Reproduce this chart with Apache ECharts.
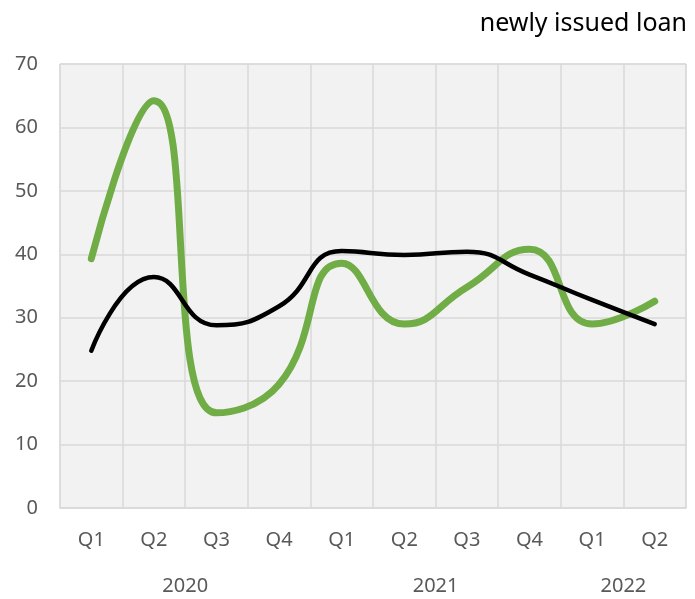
<!DOCTYPE html>
<html>
<head>
<meta charset="utf-8">
<script src="https://cdn.jsdelivr.net/npm/echarts@6/dist/echarts.min.js"></script>
<style>
  html, body { margin: 0; padding: 0; background: #fff; }
  #main { width: 695px; height: 599px; }
</style>
</head>
<body>
<div id="main"></div>
<script>
// 数据
var quarters = ['Q1', 'Q2', 'Q3', 'Q4', 'Q1', 'Q2', 'Q3', 'Q4', 'Q1', 'Q2'];
var years = ['2020', '2021', '2022'];
var yearSpans = [4, 4, 2]; // 每年包含的季度数
var greenSeries = [39.3, 64.2, 15.0, 19.5, 38.6, 29.0, 34.8, 40.8, 29.0, 32.6];
var blackSeries = [24.8, 36.4, 28.8, 31.8, 40.5, 39.9, 40.4, 36.8, 32.8, 29.0];
var yTicks = [0, 10, 20, 30, 40, 50, 60, 70];

// 年份标签位置：每组中心
var yearAt = {};
var start = 0;
yearSpans.forEach(function (s, i) {
  yearAt[start + s / 2] = years[i];
  start += s;
});

var font = 'Noto Sans';
var chart = echarts.init(document.getElementById('main'));
chart.setOption({
  animation: false,
  title: {
    text: 'newly issued loan',
    right: 3, top: 6,
    textStyle: { fontFamily: font, fontSize: 25, fontWeight: 'normal', color: '#000' }
  },
  grid: {
    left: 60, right: 9, top: 64, bottom: 91,
    show: true, backgroundColor: '#f2f2f2', borderColor: '#d9d9d9', borderWidth: 1
  },
  xAxis: [{
    type: 'category',
    data: quarters,
    boundaryGap: true,
    axisLine: { lineStyle: { color: '#d9d9d9', width: 1.5 } },
    axisTick: { show: false },
    splitLine: { show: true, lineStyle: { color: '#d9d9d9', width: 1.5 } },
    axisLabel: { fontFamily: font, fontSize: 20, color: '#595959', margin: 22 }
  }, {
    type: 'value',
    position: 'bottom',
    min: 0, max: quarters.length, interval: 1,
    axisLine: { show: false },
    axisTick: { show: false },
    splitLine: { show: false },
    axisLabel: {
      fontFamily: font, fontSize: 20, color: '#595959', margin: 68,
      showMinLabel: true, showMaxLabel: true,
      formatter: function (v) { return yearAt[v] || ''; }
    }
  }],
  yAxis: {
    type: 'value',
    min: yTicks[0], max: yTicks[yTicks.length - 1], interval: 10,
    axisLine: { show: false },
    axisTick: { show: false },
    splitLine: { show: true, lineStyle: { color: '#d9d9d9', width: 1.5 } },
    axisLabel: { fontFamily: font, fontSize: 20, color: '#595959', margin: 22 }
  },
  series: [{
    type: 'line',
    data: greenSeries,
    smooth: 0.5,
    symbol: 'none',
    lineStyle: { color: '#70ad47', width: 7, cap: 'round' },
    z: 2
  }, {
    type: 'line',
    data: blackSeries,
    smooth: 0.5,
    symbol: 'none',
    lineStyle: { color: '#000', width: 4.5, cap: 'round' },
    z: 3
  }]
});
</script>
</body>
</html>
